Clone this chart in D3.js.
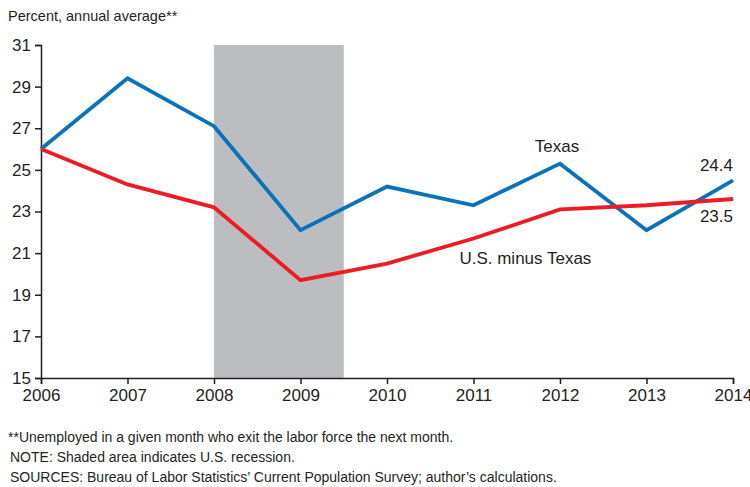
<!DOCTYPE html>
<html>
<head>
<meta charset="utf-8">
<script src="https://cdn.jsdelivr.net/npm/d3@7"></script>
<style>
  body { margin: 0; background: #fff; }
  svg text { font-family: "Liberation Sans Narrow", "Arial Narrow", "Liberation Sans", sans-serif; fill: #231f20; }
</style>
</head>
<body>
<div id="vis"></div>
<script>
// data
var years = [2006, 2007, 2008, 2009, 2010, 2011, 2012, 2013, 2014];
var texas = [26.0, 29.4, 27.1, 22.1, 24.2, 23.3, 25.3, 22.1, 24.5];
var usMinusTexas = [26.0, 24.3, 23.2, 19.7, 20.5, 21.7, 23.1, 23.3, 23.6];
var yTicks = [15, 17, 19, 21, 23, 25, 27, 29, 31];
var recession = [2008, 2009.5];
var endLabels = ['24.4', '23.5'];
var notes = [
  '**Unemployed in a given month who exit the labor force the next month.',
  'NOTE: Shaded area indicates U.S. recession.',
  'SOURCES: Bureau of Labor Statistics\u2019 Current Population Survey; author\u2019s calculations.'
];

var width = 750, height = 487;
var margin = { left: 41, right: 17, top: 45, bottom: 109 };

var svg = d3.select('#vis').append('svg')
  .attr('width', width)
  .attr('height', height);

var x = d3.scaleLinear()
  .domain([2006, 2014])
  .range([margin.left, width - margin.right]);

var y = d3.scaleLinear()
  .domain([15, 31])
  .range([height - margin.bottom, margin.top]);

// recession shading
svg.append('rect')
  .attr('x', x(recession[0]))
  .attr('y', y(31))
  .attr('width', x(recession[1]) - x(recession[0]))
  .attr('height', y(15) - y(31))
  .attr('fill', '#bcbdc0');

// axes
var yAxis = svg.append('g')
  .attr('transform', 'translate(' + margin.left + ',0)')
  .call(d3.axisLeft(y).tickValues(yTicks).tickSize(6).tickPadding(4).tickFormat(d3.format('d')));

var xAxis = svg.append('g')
  .attr('transform', 'translate(0,' + y(15) + ')')
  .call(d3.axisBottom(x).tickValues(years).tickSize(6).tickPadding(5).tickFormat(d3.format('d')));

[xAxis, yAxis].forEach(function (g) {
  g.select('.domain').attr('stroke', '#231f20').attr('stroke-width', 1.5);
  g.selectAll('.tick line').attr('stroke', '#231f20').attr('stroke-width', 1.5);
  g.selectAll('.tick text').style('font-size', '17px').attr('fill', '#231f20');
});

// axis title
svg.append('text')
  .attr('x', 8)
  .attr('y', 21)
  .style('font-size', '14.5px')
  .text('Percent, annual average**');

// lines
var line = d3.line()
  .x(function (d, i) { return x(years[i]); })
  .y(function (d) { return y(d); });

svg.append('path')
  .datum(texas)
  .attr('d', line)
  .attr('fill', 'none')
  .attr('stroke', '#0b72ba')
  .attr('stroke-width', 3.8)
  .attr('stroke-linejoin', 'miter');

svg.append('path')
  .datum(usMinusTexas)
  .attr('d', line)
  .attr('fill', 'none')
  .attr('stroke', '#ed1c24')
  .attr('stroke-width', 3.8)
  .attr('stroke-linejoin', 'miter');

// series labels
svg.append('text')
  .attr('x', x(2012) - 3)
  .attr('y', y(25.3) - 12)
  .attr('text-anchor', 'middle')
  .style('font-size', '17px')
  .text('Texas');

svg.append('text')
  .attr('x', x(2011.6))
  .attr('y', y(20.6) + 3)
  .attr('text-anchor', 'middle')
  .style('font-size', '17px')
  .text('U.S. minus Texas');

// end value labels
svg.append('text')
  .attr('x', x(2014))
  .attr('y', y(24.5) - 9)
  .attr('text-anchor', 'end')
  .style('font-size', '17px')
  .text(endLabels[0]);

svg.append('text')
  .attr('x', x(2014))
  .attr('y', y(23.6) + 23)
  .attr('text-anchor', 'end')
  .style('font-size', '17px')
  .text(endLabels[1]);

// footnotes
svg.selectAll('.note')
  .data(notes)
  .enter().append('text')
  .attr('class', 'note')
  .attr('x', function (d, i) { return i === 0 ? 8 : 10; })
  .attr('y', function (d, i) { return 442 + i * 20; })
  .style('font-size', '14px')
  .text(function (d) { return d; });
</script>
</body>
</html>
